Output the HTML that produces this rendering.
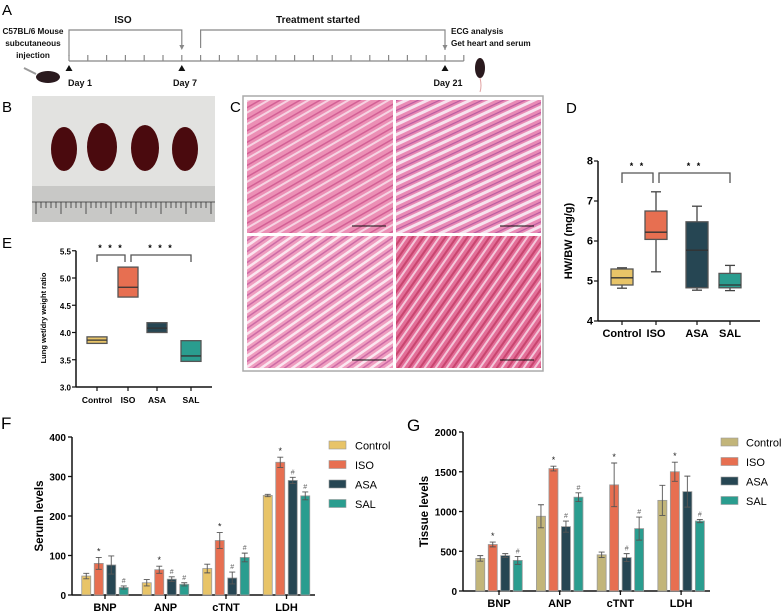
<!DOCTYPE html>
<html><head><meta charset="utf-8"><style>
body{margin:0;background:#fff}
svg{display:block;font-family:"Liberation Sans",Arial,sans-serif}
</style></head><body>
<svg id="fig" width="783" height="614" viewBox="0 0 783 614">
<defs>
<pattern id="fib1" width="14" height="10" patternUnits="userSpaceOnUse" patternTransform="rotate(-30)">
<rect width="14" height="10" fill="#ec8fb5"/><rect y="0" width="14" height="2" fill="#f6d3e3"/><rect y="6" width="14" height="1.5" fill="#d25f95"/></pattern>
<pattern id="fib2" width="12" height="9" patternUnits="userSpaceOnUse" patternTransform="rotate(-25)">
<rect width="12" height="9" fill="#e98ab5"/><rect y="0" width="12" height="3" fill="#f7e3ef"/><rect y="6" width="12" height="1.2" fill="#b85aa0"/></pattern>
<pattern id="fib3" width="12" height="9" patternUnits="userSpaceOnUse" patternTransform="rotate(-35)">
<rect width="12" height="9" fill="#ef9dbf"/><rect y="0" width="12" height="2.5" fill="#fbe6f0"/><rect y="5" width="12" height="1.5" fill="#cc6aa6"/></pattern>
<pattern id="fib4" width="12" height="9" patternUnits="userSpaceOnUse" patternTransform="rotate(-55)">
<rect width="12" height="9" fill="#e36e98"/><rect y="0" width="12" height="2" fill="#f4c7da"/><rect y="5" width="12" height="2" fill="#c8456f"/></pattern>
</defs>

<g>
<text x="2" y="15" font-size="15">A</text>
<g font-size="8.2" font-weight="bold" text-anchor="middle" fill="#111">
<text x="33" y="34">C57BL/6 Mouse</text>
<text x="33" y="46">subcutaneous</text>
<text x="33" y="58">injection</text>
<text x="123" y="23" font-size="10">ISO</text>
<text x="318" y="23" font-size="10">Treatment started</text>
<text x="80" y="86" font-size="9">Day 1</text>
<text x="185" y="86" font-size="9">Day 7</text>
<text x="448" y="86" font-size="9">Day 21</text>
</g>
<g font-size="8.2" font-weight="bold" fill="#111">
<text x="451" y="34">ECG analysis</text>
<text x="451" y="46">Get heart and serum</text>
</g>
<g id="timeline" stroke="#888" fill="none" stroke-width="1.2"></g>
<ellipse cx="48" cy="77" rx="12" ry="6" fill="#2a1a1e"/>
<path d="M24 68 L36 74" stroke="#999" stroke-width="2"/>
<ellipse cx="480" cy="68" rx="5" ry="10" fill="#2a1a1e"/>
<path d="M480 78 Q482 86 480 92" stroke="#e0a0a0" fill="none" stroke-width="1"/>
</g>

<g>
<text x="2" y="112" font-size="15">B</text>
<rect x="32" y="96" width="183" height="126" fill="#e2e2e0"/>
<rect x="32" y="186" width="183" height="36" fill="#c8c8c6"/>
<g fill="#4a0a0e">
<ellipse cx="64" cy="149" rx="13" ry="22"/>
<ellipse cx="102" cy="147" rx="15" ry="24"/>
<ellipse cx="145" cy="148" rx="14" ry="23"/>
<ellipse cx="185" cy="149" rx="13" ry="22"/>
</g>
<g id="ruler" stroke="#333" stroke-width="0.8"></g>
</g>

<g>
<text x="230" y="112" font-size="15">C</text>
<rect x="243" y="96" width="300" height="275" fill="#fff" stroke="#aaa" stroke-width="1.5"/>
<rect x="247" y="100" width="146" height="133" fill="url(#fib1)"/>
<rect x="396" y="100" width="145" height="133" fill="url(#fib2)"/>
<rect x="247" y="236" width="146" height="132" fill="url(#fib3)"/>
<rect x="396" y="236" width="145" height="132" fill="url(#fib4)"/>
<g stroke="#111" stroke-width="1"><line x1="352" y1="226" x2="386" y2="226"/><line x1="500" y1="226" x2="534" y2="226"/><line x1="352" y1="360" x2="386" y2="360"/><line x1="500" y1="360" x2="534" y2="360"/></g>
</g>

<g id="panelD"></g>
<g id="panelE"></g>
<g id="panelF"></g>
<g id="panelG"></g>
</svg>
<script>
const groups = ["Control","ISO","ASA","SAL"];
const boxColors = ["#E8C468","#E76F51","#264653","#2A9D8F"];
const dLow = [4.82, 5.23, 4.77, 4.76];
const dQ1 = [4.90, 6.04, 4.83, 4.83];
const dMed = [5.08, 6.22, 5.77, 4.90];
const dQ3 = [5.30, 6.75, 6.48, 5.19];
const dHigh = [5.33, 7.23, 6.87, 5.39];
const dTicks = [4,5,6,7,8];
const eQ1 = [3.80, 4.65, 4.00, 3.47];
const eMed = [3.86, 4.83, 4.08, 3.57];
const eQ3 = [3.92, 5.20, 4.18, 3.85];
const eTicks = [3.0,3.5,4.0,4.5,5.0,5.5];
const markers = ["BNP","ANP","cTNT","LDH"];
const fControl = [48, 31, 67, 252];
const fISO = [80, 64, 138, 336];
const fASA = [76, 40, 43, 290];
const fSAL = [19, 27, 95, 251];
const fErrControl = [7, 8, 11, 3];
const fErrISO = [15, 9, 20, 13];
const fErrASA = [23, 6, 15, 8];
const fErrSAL = [4, 4, 11, 10];
const fTicks = [0,100,200,300,400];
const gControl = [410, 940, 455, 1140];
const gISO = [585, 1540, 1335, 1500];
const gASA = [445, 810, 420, 1250];
const gSAL = [385, 1180, 785, 880];
const gErrControl = [35, 145, 35, 190];
const gErrISO = [30, 30, 275, 120];
const gErrASA = [25, 70, 50, 195];
const gErrSAL = [50, 55, 145, 20];
const gTicks = [0,500,1000,1500,2000];
const fMarks = [["","*","","#"],["","*","#","#"],["","*","#","#"],["","*","#","#"]];
const gMarks = [["","*","","#"],["","*","#","#"],["","*","#","#"],["","*","","#"]];

const NS="http://www.w3.org/2000/svg";
function mk(parent, tag, attrs, text){const e=document.createElementNS(NS,tag);for(const k in attrs)e.setAttribute(k,attrs[k]);if(text!==undefined)e.textContent=text;parent.appendChild(e);return e;}

(function(){
  const g=document.getElementById('timeline');
  const dx=d=>69+(d-1)*18.8;
  mk(g,'line',{x1:dx(1),y1:61,x2:dx(22),y2:61});
  for(let d=1;d<=22;d++){mk(g,'line',{x1:dx(d),y1:55,x2:dx(d),y2:61});}
  mk(g,'path',{d:`M${dx(1)} 56 V30 H${dx(7)} V46`});
  mk(g,'path',{d:`M${dx(8)} 48 V30 H${dx(21)} V50`});
  [1,7,21].forEach(d=>{const t=mk(g,'path',{d:`M${dx(d)-3.5} 71 L${dx(d)+3.5} 71 L${dx(d)} 65 Z`,fill:'#111',stroke:'none'});
  
  });
  [7,21].forEach(d=>mk(g,'path',{d:`M${dx(d)-2.5} 45 L${dx(d)+2.5} 45 L${dx(d)} 50 Z`,fill:'#888',stroke:'none'}));
  const r=document.getElementById('ruler');
  for(let i=0;i<36;i++){const x=36+i*5;mk(r,'line',{x1:x,y1:202,x2:x,y2:i%5==0?214:208});}
  mk(r,'line',{x1:32,y1:202,x2:215,y2:202});
})();

function boxPlot(gid, opts){
  const g=document.getElementById(gid);
  const y=v=>opts.y0-(v-opts.t0)*opts.ppu;
  mk(g,'text',{x:opts.lx,y:opts.ly,'font-size':15},opts.letter);
  mk(g,'line',{x1:opts.ax,y1:y(opts.ticks[0]),x2:opts.ax,y2:y(opts.ticks[opts.ticks.length-1]),stroke:'#111','stroke-width':1.5});
  mk(g,'line',{x1:opts.ax,y1:y(opts.ticks[0]),x2:opts.axEnd,y2:y(opts.ticks[0]),stroke:'#111','stroke-width':1.5});
  opts.ticks.forEach(t=>{mk(g,'line',{x1:opts.ax-4,y1:y(t),x2:opts.ax,y2:y(t),stroke:'#111','stroke-width':1.2});
    const tl=mk(g,'text',{x:opts.ax-5,y:y(t)+3.5,'font-size':opts.tfs,'font-weight':'bold','text-anchor':'end'},opts.fmt(t));
    
    });
  const yl=mk(g,'text',{x:0,y:0,'font-size':opts.yfs,'font-weight':'bold','text-anchor':'middle',transform:`translate(${opts.ylx},${opts.yly}) rotate(-90)`},opts.ylabel);
  
  
  groups.forEach((n,i)=>{
    const cx=opts.cx[i], w=opts.bw;
    mk(g,'line',{x1:cx,y1:y(opts.ticks[0]),x2:cx,y2:y(opts.ticks[0])+4,stroke:'#111','stroke-width':1.2});
    const xl=mk(g,'text',{x:cx,y:y(opts.ticks[0])+16,'font-size':opts.xfs,'font-weight':'bold','text-anchor':'middle'},n);
    
    
    if(opts.low){
      mk(g,'line',{x1:cx,y1:y(opts.low[i]),x2:cx,y2:y(opts.high[i]),stroke:'#444','stroke-width':1.3});
      mk(g,'line',{x1:cx-5,y1:y(opts.low[i]),x2:cx+5,y2:y(opts.low[i]),stroke:'#444','stroke-width':1.3});
      mk(g,'line',{x1:cx-5,y1:y(opts.high[i]),x2:cx+5,y2:y(opts.high[i]),stroke:'#444','stroke-width':1.3});
    }
    const b=mk(g,'rect',{x:cx-w/2,y:y(opts.q3[i]),width:w,height:y(opts.q1[i])-y(opts.q3[i]),fill:boxColors[i],stroke:'#555','stroke-width':1.3});
    
    
    mk(g,'line',{x1:cx-w/2,y1:y(opts.med[i]),x2:cx+w/2,y2:y(opts.med[i]),stroke:'#333','stroke-width':1.3});
  });
  const by=opts.brY, bd=opts.brD;
  [[0,1],[1,3]].forEach(([a,c],k)=>{
    const x1=opts.cx[a]+(k==1?3:0), x2=opts.cx[c]-(k==0?3:0);
    mk(g,'path',{d:`M${x1} ${by+bd} V${by} H${x2} V${by+bd}`,fill:'none',stroke:'#555','stroke-width':1.3});
    mk(g,'text',{x:(x1+x2)/2,y:by-4,'font-size':9,'font-weight':'bold','text-anchor':'middle','letter-spacing':2},opts.sig);
  });
}
boxPlot('panelD',{letter:'D',lx:566,ly:113,y0:321,t0:4,ppu:40,ticks:dTicks,ax:598,axEnd:760,tfs:11,fmt:t=>t,
  ylabel:'HW/BW (mg/g)',yfs:11,ylx:572,yly:241,cx:[622,656,697,730],bw:22,xfs:11,
  low:dLow,q1:dQ1,med:dMed,q3:dQ3,high:dHigh,brY:173,brD:10,sig:'* *'});
boxPlot('panelE',{letter:'E',lx:2,ly:248,y0:387,t0:3,ppu:54.5,ticks:eTicks,ax:76,axEnd:212,tfs:8,fmt:t=>t.toFixed(1),
  ylabel:'Lung wet/dry weight ratio',yfs:7.5,ylx:46,yly:318,cx:[97,128,157,191],bw:20,xfs:8.5,
  q1:eQ1,med:eMed,q3:eQ3,brY:255,brD:7,sig:'* * *'});

function barChart(gid, opts){
  const g=document.getElementById(gid);
  const top=opts.ticks[opts.ticks.length-1];
  const y=v=>opts.y0-v/top*(opts.y0-opts.yTop);
  mk(g,'text',{x:opts.lx,y:opts.ly,'font-size':17},opts.letter);
  mk(g,'line',{x1:opts.ax,y1:opts.y0,x2:opts.ax,y2:opts.yTop,stroke:'#111','stroke-width':1.5});
  mk(g,'line',{x1:opts.ax,y1:opts.y0,x2:opts.axEnd,y2:opts.y0,stroke:'#111','stroke-width':1.5});
  opts.ticks.forEach(t=>{mk(g,'line',{x1:opts.ax-4,y1:y(t),x2:opts.ax,y2:y(t),stroke:'#111','stroke-width':1.3});
    const tl=mk(g,'text',{x:opts.ax-6,y:y(t)+4,'font-size':10,'font-weight':'bold','text-anchor':'end'},t);
    
    });
  const yl=mk(g,'text',{x:0,y:0,'font-size':11.5,'font-weight':'bold','text-anchor':'middle',transform:`translate(${opts.ylx},${(opts.y0+opts.yTop)/2}) rotate(-90)`},opts.ylabel);
  
  
  const series=[opts.s0,opts.s1,opts.s2,opts.s3], errs=[opts.e0,opts.e1,opts.e2,opts.e3];
  markers.forEach((m,gi)=>{
    const gc=opts.gx0+gi*opts.gstep;
    mk(g,'line',{x1:gc,y1:opts.y0,x2:gc,y2:opts.y0+4,stroke:'#111','stroke-width':1.3});
    const xl=mk(g,'text',{x:gc,y:opts.y0+16,'font-size':11,'font-weight':'bold','text-anchor':'middle'},m);
    
    
    series.forEach((s,si)=>{
      const bx=gc+(si-1.5)*12.5-4.5, v=s[gi], e=errs[si][gi], cx=bx+4.5;
      const b=mk(g,'rect',{x:bx,y:y(v),width:9,height:opts.y0-y(v),fill:opts.colors[si],stroke:'#999','stroke-width':0.8});
      
      
      mk(g,'path',{d:`M${cx-3} ${y(v+e)} H${cx+3} M${cx} ${y(v+e)} V${y(v-e)} M${cx-3} ${y(v-e)} H${cx+3}`,stroke:'#555','stroke-width':0.9,fill:'none'});
      const mark=opts.marks[gi][si];
      if(mark) mk(g,'text',{x:cx,y:y(v+e)-3,'font-size':mark=='*'?9:7,'text-anchor':'middle',fill:mark=='*'?'#222':'#666'},mark);
    });
  });
  groups.forEach((n,i)=>{
    const ly=opts.legY+i*19.5;
    const r=mk(g,'rect',{x:opts.legX,y:ly-4,width:17,height:8,fill:opts.colors[i],stroke:'#999','stroke-width':0.6});
    
    
    const t=mk(g,'text',{x:opts.legX+opts.legGap,y:ly+4.5,'font-size':11},n);
    
    
  });
}
barChart('panelF',{letter:'F',lx:1,ly:429,y0:595,yTop:437,ticks:fTicks,ax:72,axEnd:315,ylabel:'Serum levels',ylx:43,
  gx0:105,gstep:60.5,s0:fControl,s1:fISO,s2:fASA,s3:fSAL,e0:fErrControl,e1:fErrISO,e2:fErrASA,e3:fErrSAL,
  colors:["#E8C468","#E76F51","#264653","#2A9D8F"],marks:fMarks,legX:329,legY:445,legGap:26});
barChart('panelG',{letter:'G',lx:407,ly:431,y0:591,yTop:432,ticks:gTicks,ax:463,axEnd:710,ylabel:'Tissue levels',ylx:428,
  gx0:499,gstep:60.7,s0:gControl,s1:gISO,s2:gASA,s3:gSAL,e0:gErrControl,e1:gErrISO,e2:gErrASA,e3:gErrSAL,
  colors:["#C2B57A","#E76F51","#264653","#2A9D8F"],marks:gMarks,legX:721,legY:442,legGap:25});
</script>
</body></html>
